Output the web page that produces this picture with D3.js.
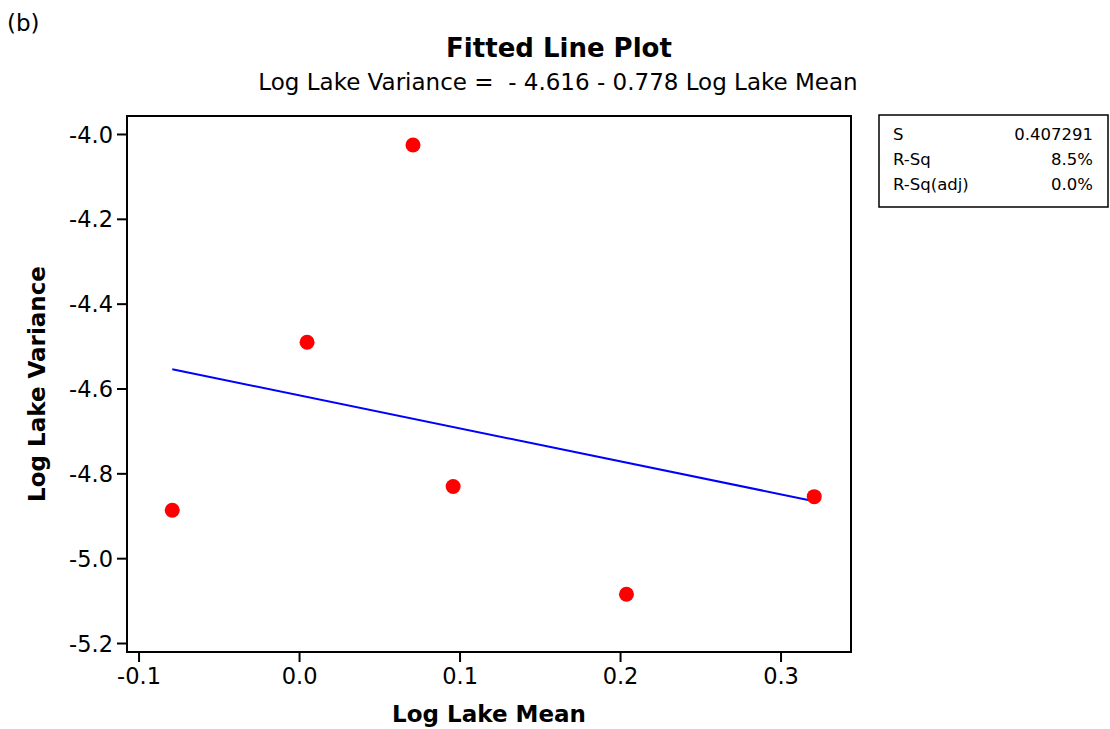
<!DOCTYPE html>
<html>
<head>
<meta charset="utf-8">
<script src="https://cdn.jsdelivr.net/npm/d3@7"></script>
<style>
  html, body { margin: 0; padding: 0; background: #fff; }
  svg { display: block; font-family: "DejaVu Sans", Verdana, sans-serif; }
</style>
</head>
<body>
<svg id="chart" width="1110" height="729"></svg>
<script>
// Observations (log scale)
const logLakeMean = [-0.079, 0.005, 0.071, 0.096, 0.204, 0.321];
const logLakeVariance = [-4.887, -4.491, -4.026, -4.831, -5.085, -4.855];

// Fitted regression: y = a + b x
const intercept = -4.616;
const slope = -0.778;

// Tick values and labels
const xTicks = [-0.1, 0.0, 0.1, 0.2, 0.3];
const xTickLabels = ["-0.1", "0.0", "0.1", "0.2", "0.3"];
const yTicks = [-4.0, -4.2, -4.4, -4.6, -4.8, -5.0, -5.2];
const yTickLabels = ["-4.0", "-4.2", "-4.4", "-4.6", "-4.8", "-5.0", "-5.2"];

// Summary statistics
const statNames = ["S", "R-Sq", "R-Sq(adj)"];
const statValues = ["0.407291", "8.5%", "0.0%"];

const svg = d3.select("#chart");
const plot = { left: 127, top: 116, right: 851, bottom: 652 };

const x = d3.scaleLinear().domain([-0.1072, 0.3439]).range([plot.left, plot.right]);
const y = d3.scaleLinear().domain([-5.2212, -3.9576]).range([plot.bottom, plot.top]);

// Panel tag
svg.append("text").attr("x", 7).attr("y", 31)
  .attr("font-size", 23).attr("fill", "#000").text("(b)");

// Titles
svg.append("text").attr("x", 559).attr("y", 57)
  .attr("text-anchor", "middle").attr("font-size", 26).attr("font-weight", "bold")
  .text("Fitted Line Plot");
svg.append("text").attr("x", 558).attr("y", 90)
  .attr("text-anchor", "middle").attr("font-size", 23)
  .attr("xml:space", "preserve")
  .text("Log Lake Variance =  - 4.616 - 0.778 Log Lake Mean");

// Axes
const xAxis = d3.axisBottom(x).tickValues(xTicks)
  .tickFormat((d, i) => xTickLabels[i]).tickSize(10).tickSizeOuter(0).tickPadding(6);
const yAxis = d3.axisLeft(y).tickValues(yTicks)
  .tickFormat((d, i) => yTickLabels[i]).tickSize(10).tickSizeOuter(0).tickPadding(4);

const gx = svg.append("g").attr("transform", `translate(0,${plot.bottom})`).call(xAxis);
const gy = svg.append("g").attr("transform", `translate(${plot.left},0)`).call(yAxis);
[gx, gy].forEach(g => {
  g.select(".domain").remove();
  g.selectAll(".tick line").attr("stroke", "#000").attr("stroke-width", 2);
  g.selectAll(".tick text").attr("font-size", 22.5).attr("fill", "#000")
    .attr("font-family", "DejaVu Sans, Verdana, sans-serif");
});
gy.selectAll(".tick text").attr("dy", "0.36em");

// Frame
svg.append("rect")
  .attr("x", plot.left).attr("y", plot.top)
  .attr("width", plot.right - plot.left).attr("height", plot.bottom - plot.top)
  .attr("fill", "none").attr("stroke", "#000").attr("stroke-width", 2);

// Axis titles
svg.append("text").attr("x", (plot.left + plot.right) / 2).attr("y", 722)
  .attr("text-anchor", "middle").attr("font-size", 23).attr("font-weight", "bold")
  .text("Log Lake Mean");
svg.append("text")
  .attr("transform", `translate(45,${(plot.top + plot.bottom) / 2}) rotate(-90)`)
  .attr("text-anchor", "middle").attr("font-size", 23).attr("font-weight", "bold")
  .text("Log Lake Variance");

// Fitted line across the observed range
const xr = d3.extent(logLakeMean);
const fit = xr.map(v => [v, intercept + slope * v]);
svg.append("path")
  .datum(fit)
  .attr("d", d3.line().x(d => x(d[0])).y(d => y(d[1])))
  .attr("fill", "none").attr("stroke", "#0000ff").attr("stroke-width", 2);

// Data points
svg.append("g").selectAll("circle")
  .data(logLakeMean.map((v, i) => [v, logLakeVariance[i]]))
  .join("circle")
  .attr("cx", d => x(d[0])).attr("cy", d => y(d[1]))
  .attr("r", 7.5).attr("fill", "#ff0000");

// Statistics box
const box = svg.append("g");
box.append("rect").attr("x", 879).attr("y", 115).attr("width", 229).attr("height", 92)
  .attr("fill", "#fff").attr("stroke", "#000").attr("stroke-width", 1.5);
statNames.forEach((name, i) => {
  const yy = 140 + i * 25;
  box.append("text").attr("x", 893).attr("y", yy).attr("font-size", 16.5).text(name);
  box.append("text").attr("x", 1093).attr("y", yy).attr("font-size", 16.5)
    .attr("text-anchor", "end").text(statValues[i]);
});
</script>
</body>
</html>
